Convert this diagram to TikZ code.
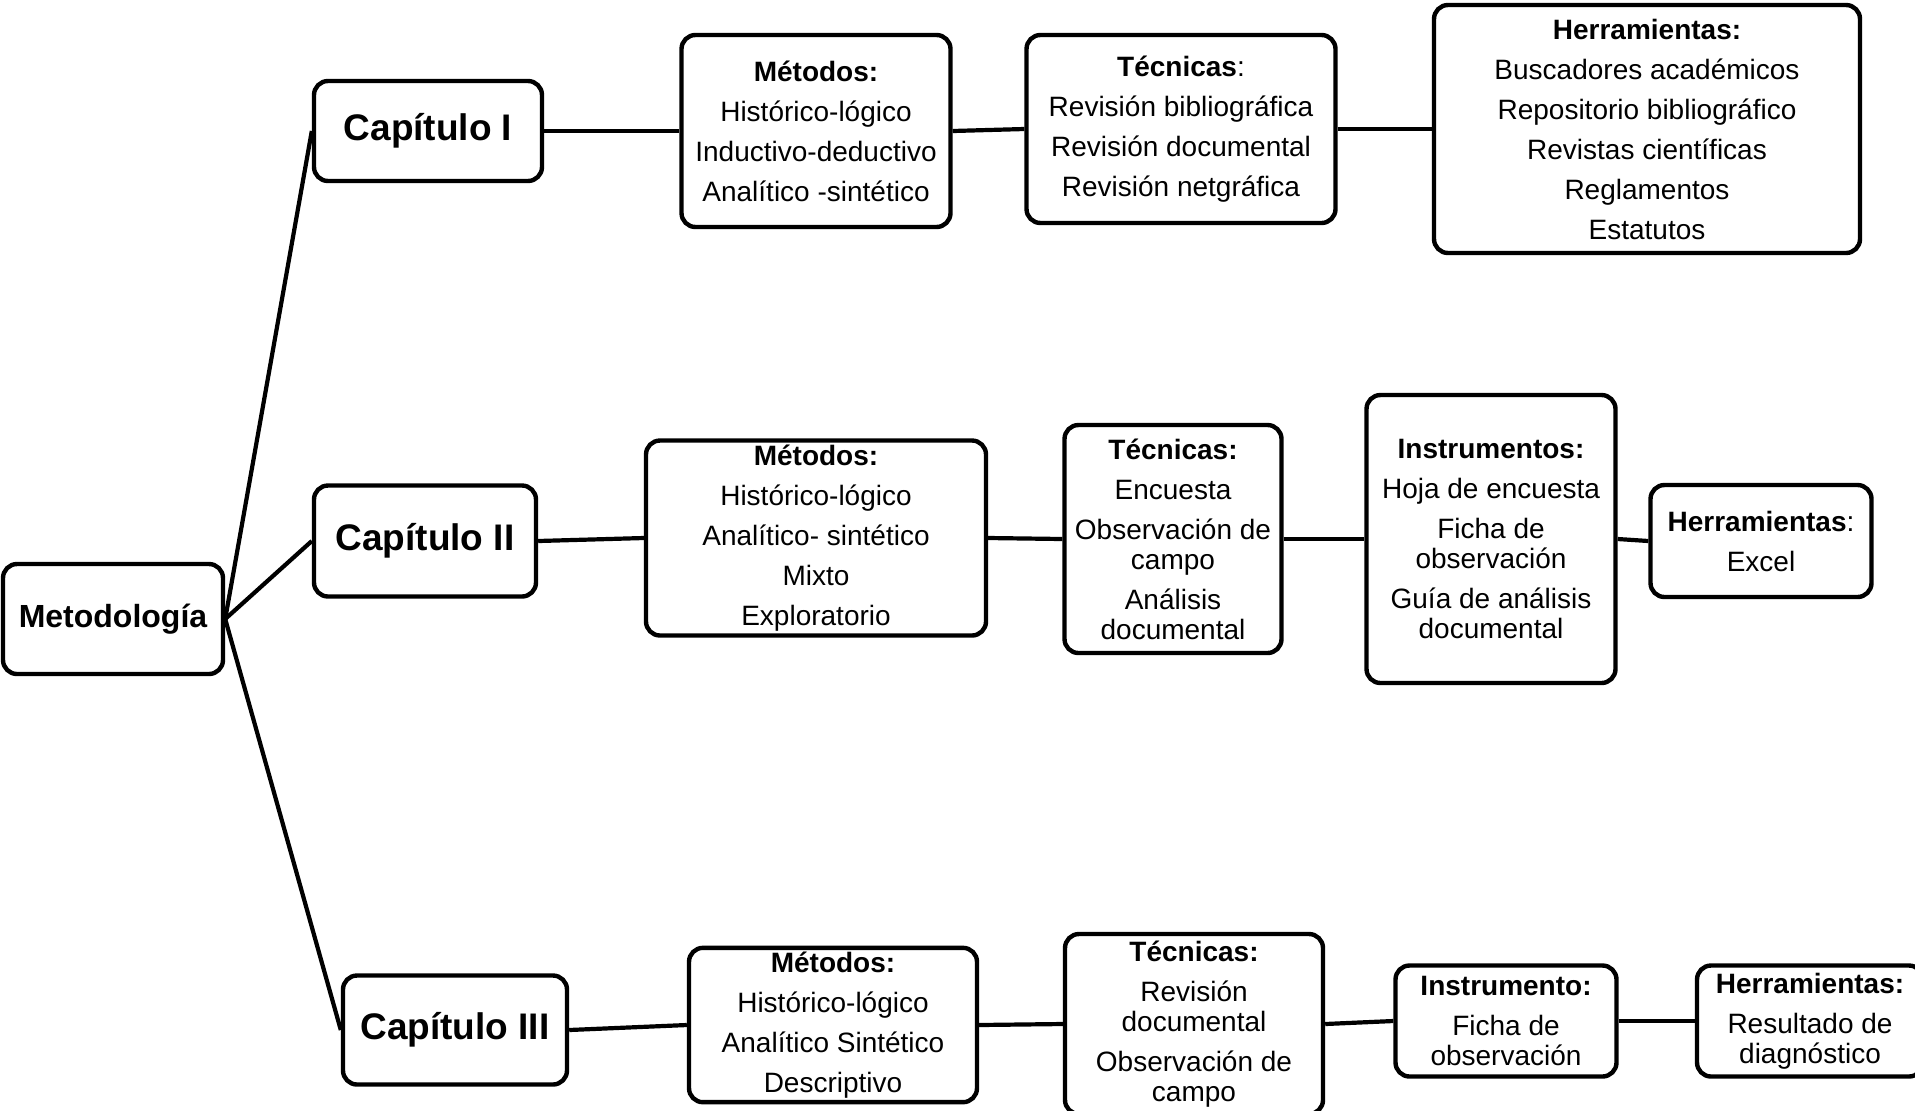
\documentclass[tikz,border=0pt]{standalone}
\usepackage{fontspec}
\setmainfont{Liberation Sans}
\usepackage{tikz}
\usetikzlibrary{calc}
\tikzset{caja/.style={draw, line width=2.2pt, rounded corners=7pt, align=center, inner sep=2pt, font=\fontsize{14}{15}\selectfont}}
\tikzset{capitulo/.style={caja, font=\bfseries\fontsize{18.5}{22}\selectfont}}
\tikzset{enlace/.style={line width=2.1pt}}
\newcommand{\tit}[1]{\textbf{#1}}

\begin{document}
\begin{tikzpicture}[x=0.5pt, y=-0.5pt]
        \useasboundingbox (0,0) rectangle (1915,1110);
        % raiz
        \node[caja, minimum width=110pt, minimum height=55pt, font=\bfseries\fontsize{16}{19}\selectfont] (meto) at (113,619) {Metodología};
        % capitulos
        \node[capitulo, minimum width=114pt, minimum height=50pt] (cap1) at (428,131) {Capítulo I};
        \node[capitulo, minimum width=111pt, minimum height=55.5pt] (cap2) at (425,541) {Capítulo II};
        \node[capitulo, minimum width=112pt, minimum height=54.5pt] (cap3) at (455,1030) {Capítulo III};
        % fila 1
        \node[caja, minimum width=134.5pt, minimum height=96pt] (met1) at (816,131)
            {\tit{Métodos:}\\[5pt] Histórico-lógico\\[5pt] Inductivo-deductivo\\[5pt] Analítico -sintético};
        \node[caja, minimum width=154.5pt, minimum height=94pt] (tec1) at (1181,129)
            {\tit{Técnicas}:\\[5pt] Revisión bibliográfica\\[5pt] Revisión documental\\[5pt] Revisión netgráfica};
        \node[caja, minimum width=213pt, minimum height=124pt] (her1) at (1647,129)
            {\tit{Herramientas:}\\[5pt] Buscadores académicos\\[5pt] Repositorio bibliográfico\\[5pt] Revistas científicas\\[5pt] Reglamentos\\[5pt] Estatutos};
        % fila 2
        \node[caja, minimum width=170pt, minimum height=97.5pt] (met2) at (816,538)
            {\tit{Métodos:}\\[5pt] Histórico-lógico\\[5pt] Analítico- sintético\\[5pt] Mixto\\[5pt] Exploratorio};
        \node[caja, minimum width=108.5pt, minimum height=114pt] (tec2) at (1173,539)
            {\tit{Técnicas:}\\[5pt] Encuesta\\[5pt] Observación de\\ campo\\[5pt] Análisis\\ documental};
        \node[caja, minimum width=124.5pt, minimum height=144pt] (ins2) at (1491,539)
            {\tit{Instrumentos:}\\[5pt] Hoja de encuesta\\[5pt] Ficha de\\ observación\\[5pt] Guía de análisis\\ documental};
        \node[caja, minimum width=110.5pt, minimum height=56pt] (her2) at (1761,541)
            {\tit{Herramientas}:\\[5pt] Excel};
        % fila 3
        \node[caja, minimum width=144pt, minimum height=75pt] (met3) at (833,1025)
            {\tit{Métodos:}\\[5pt] Histórico-lógico\\[5pt] Analítico Sintético\\[5pt] Descriptivo};
        \node[caja, minimum width=129pt, minimum height=90pt] (tec3) at (1194,1024)
            {\tit{Técnicas:}\\[5pt] Revisión\\ documental\\[5pt] Observación de\\ campo};
        \node[caja, minimum width=110.5pt, minimum height=55.5pt] (ins3) at (1506,1021)
            {\tit{Instrumento:}\\[5pt] Ficha de\\ observación};
        \node[caja, minimum width=113pt, minimum height=55.5pt] (her3) at (1810,1021)
            {\tit{Herramientas:}\\[5pt] Resultado de\\ diagnóstico};
        % enlaces
        \draw[enlace] (meto.east) -- (cap1.west);
        \draw[enlace] (meto.east) -- (cap2.west);
        \draw[enlace] (meto.east) -- (cap3.west);
        \draw[enlace] (cap1.east) -- (met1.west);
        \draw[enlace] (met1.east) -- (tec1.west);
        \draw[enlace] (tec1.east) -- (her1.west);
        \draw[enlace] (cap2.east) -- (met2.west);
        \draw[enlace] (met2.east) -- (tec2.west);
        \draw[enlace] (tec2.east) -- (ins2.west);
        \draw[enlace] (ins2.east) -- (her2.west);
        \draw[enlace] (cap3.east) -- (met3.west);
        \draw[enlace] (met3.east) -- (tec3.west);
        \draw[enlace] (tec3.east) -- (ins3.west);
        \draw[enlace] (ins3.east) -- (her3.west);
    \end{tikzpicture}
\end{document}
